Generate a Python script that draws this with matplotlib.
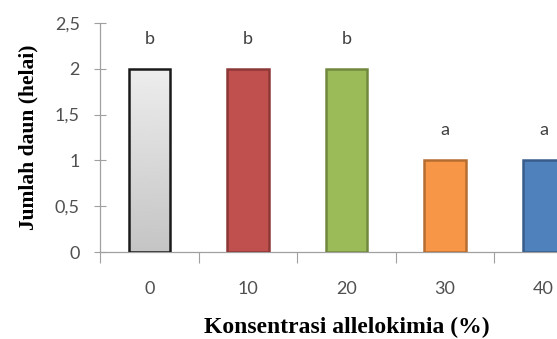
import numpy as np
import matplotlib.pyplot as plt
from matplotlib.ticker import FixedLocator

# data
konsentrasi = ["0", "10", "20", "30", "40"]
jumlah_daun = [2, 2, 2, 1, 1]
notasi = ["b", "b", "b", "a", "a"]

fills = ["none", "#C0504D", "#9BBB59", "#F79646", "#4F81BD"]
edges = ["#1a1a1a", "#8C3836", "#71893F", "#B66D31", "#385D8A"]

fig = plt.figure(figsize=(5.57, 3.39), dpi=100)
# axes runs past the right edge like the cropped original
ax = fig.add_axes([0.1795, 0.2566, 0.885, 0.6755])

x = np.arange(len(konsentrasi))
bars = ax.bar(x, jumlah_daun, width=0.42, color=fills, edgecolor=edges,
              linewidth=1.8, zorder=3)

# grey gradient fill for the control bar
b0 = bars[0]
grad = np.linspace(0.93, 0.77, 256).reshape(-1, 1)
im = ax.imshow(grad, cmap="gray", vmin=0, vmax=1, aspect="auto",
               extent=[b0.get_x(), b0.get_x() + b0.get_width(), 0, b0.get_height()],
               zorder=2)
im.set_clip_path(b0)

for xi, h, t in zip(x, jumlah_daun, notasi):
    ax.text(xi, h + 0.24, t, ha="center", va="bottom", fontsize=13,
            family="Lato", color="#404040")

ax.set_xlim(-0.5, len(konsentrasi) - 0.5)
ax.set_ylim(0, 2.5)
ax.set_yticks(np.arange(0, 2.51, 0.5))
ax.set_yticklabels(["0", "0,5", "1", "1,5", "2", "2,5"])

ax.set_xticks(x)
ax.set_xticklabels(konsentrasi)
ax.xaxis.set_minor_locator(FixedLocator(np.arange(-0.5, len(konsentrasi), 1)))
ax.tick_params(axis="x", which="major", length=0, pad=21)
ax.tick_params(axis="x", which="minor", length=8, width=0.8, color="#a0a0a0",
               direction="out")
ax.tick_params(axis="y", length=9, width=0.8, color="#a0a0a0", direction="inout",
               pad=10)
for lab in ax.get_xticklabels() + ax.get_yticklabels():
    lab.set_family("Lato")
    lab.set_fontsize(13)
    lab.set_color("#505050")

for s in ["top", "right"]:
    ax.spines[s].set_visible(False)
for s in ["left", "bottom"]:
    ax.spines[s].set_color("#a0a0a0")
    ax.spines[s].set_linewidth(0.9)

ax.set_xlabel("Konsentrasi allelokimia (%)", family="Liberation Serif",
              fontweight="bold", fontsize=17, labelpad=14)
ax.set_ylabel("Jumlah daun (helai)", family="Liberation Serif",
              fontweight="bold", fontsize=15.5, labelpad=12)

fig.savefig("out.png", dpi=100)
